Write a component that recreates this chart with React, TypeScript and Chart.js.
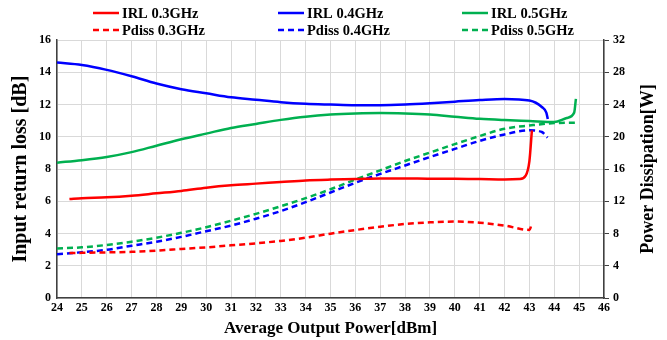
import React, { useEffect, useRef } from "react";
import { Chart, registerables } from "chart.js";

Chart.register(...registerables);

const irl03x = [24.5, 25, 26, 27, 28, 29, 30, 31, 32, 33, 34, 35, 36, 37, 38, 39, 40, 41, 42, 42.6, 42.85, 43.0, 43.1];
const irl03y = [6.15, 6.2, 6.25, 6.35, 6.5, 6.65, 6.85, 7.0, 7.1, 7.2, 7.3, 7.35, 7.38, 7.42, 7.42, 7.4, 7.4, 7.38, 7.35, 7.38, 7.6, 8.5, 10.4];

const irl04x = [24, 25, 26, 27, 28, 29, 30, 31, 32, 33, 34, 35, 36, 37, 38, 39, 40, 41, 42, 43, 43.5, 43.68, 43.74];
const irl04y = [14.6, 14.45, 14.15, 13.75, 13.3, 12.95, 12.7, 12.45, 12.3, 12.15, 12.05, 12.0, 11.96, 11.96, 12.0, 12.08, 12.18, 12.28, 12.35, 12.25, 11.85, 11.5, 11.1];

const irl05x = [24, 25, 26, 27, 28, 29, 30, 31, 32, 33, 34, 35, 36, 37, 38, 39, 40, 41, 42, 43, 44, 44.5, 44.8, 44.87];
const irl05y = [8.4, 8.55, 8.75, 9.05, 9.45, 9.85, 10.2, 10.55, 10.8, 11.05, 11.25, 11.38, 11.45, 11.48, 11.45, 11.38, 11.25, 11.12, 11.04, 10.98, 10.92, 11.17, 11.5, 12.35];

const pd03x = [24.5, 25, 26, 27, 28, 29, 30, 31, 32, 33, 34, 35, 36, 37, 38, 39, 40, 41, 42, 43, 43.1];
const pd03y = [5.6, 5.62, 5.68, 5.75, 5.9, 6.1, 6.3, 6.55, 6.8, 7.1, 7.5, 8.0, 8.45, 8.85, 9.2, 9.4, 9.5, 9.35, 9.0, 8.46, 9.3];

const pd04x = [24, 25, 26, 27, 28, 29, 30, 31, 32, 33, 34, 35, 36, 37, 38, 39, 40, 41, 42, 43, 43.5, 43.73];
const pd04y = [5.46, 5.7, 6.0, 6.5, 7.0, 7.6, 8.3, 9.0, 9.85, 10.8, 11.9, 13.1, 14.3, 15.4, 16.45, 17.5, 18.5, 19.5, 20.3, 20.8, 20.6, 19.9];

const pd05x = [24, 25, 26, 27, 28, 29, 30, 31, 32, 33, 34, 35, 36, 37, 38, 39, 40, 41, 42, 43, 44, 44.9];
const pd05y = [6.16, 6.3, 6.6, 7.0, 7.5, 8.1, 8.8, 9.6, 10.45, 11.4, 12.4, 13.5, 14.7, 15.85, 17.0, 18.05, 19.1, 20.1, 21.0, 21.4, 21.7, 21.75];

const labels = ["IRL 0.3GHz", "IRL 0.4GHz", "IRL 0.5GHz", "Pdiss 0.3GHz", "Pdiss 0.4GHz", "Pdiss 0.5GHz"];
const rightTitle = "Power Dissipation[W]";
const RED = "#ff0000";
const BLUE = "#0000ff";
const GREEN = "#00b050";

const pts = (xs: number[], ys: number[]) => xs.map((x, i) => ({ x, y: ys[i] }));

const FONT = "'Liberation Serif', 'Times New Roman', serif";

const legendPlugin = {
  id: "customLegend",
  afterDraw(chart: any) {
    const ctx = chart.ctx;
    const ds = chart.data.datasets;
    const cols = [93, 278, 462];
    const rows = [13, 30];
    ctx.save();
    ctx.font = `bold 14.5px ${FONT}`;
    ctx.textBaseline = "middle";
    ctx.textAlign = "left";
    ds.forEach((d: any, i: number) => {
      const col = i % 3;
      const row = Math.floor(i / 3);
      const x = cols[col];
      const y = rows[row];
      ctx.strokeStyle = d.borderColor;
      ctx.lineWidth = 2.5;
      ctx.setLineDash(d.borderDash || []);
      ctx.beginPath();
      ctx.moveTo(x, y);
      ctx.lineTo(x + 26, y);
      ctx.stroke();
      ctx.setLineDash([]);
      ctx.fillStyle = "#000";
      ctx.fillText(d.label, x + 29, y + 1);
    });
    // right axis title, reading bottom to top
    const area = chart.chartArea;
    ctx.font = `bold 18px ${FONT}`;
    ctx.textAlign = "center";
    ctx.translate(648, (area.top + area.bottom) / 2);
    ctx.rotate(-Math.PI / 2);
    ctx.fillText(rightTitle, 0, 0);
    ctx.restore();
  },
};

export default function App() {
  const ref = useRef<HTMLCanvasElement | null>(null);
  useEffect(() => {
    document.body.style.margin = "0";
    const mk = (i: number, xs: number[], ys: number[], color: string, dashed: boolean) => ({
      label: labels[i],
      data: pts(xs, ys),
      borderColor: color,
      backgroundColor: color,
      borderWidth: 2.5,
      borderDash: dashed ? [6, 4] : [],
      pointRadius: 0,
      tension: 0.4,
      cubicInterpolationMode: "monotone",
      yAxisID: dashed ? "y1" : "y",
      fill: false,
    });
    const chart = new Chart(ref.current!, {
      type: "line",
      data: {
        datasets: [
          mk(0, irl03x, irl03y, RED, false),
          mk(1, irl04x, irl04y, BLUE, false),
          mk(2, irl05x, irl05y, GREEN, false),
          mk(3, pd03x, pd03y, RED, true),
          mk(4, pd04x, pd04y, BLUE, true),
          mk(5, pd05x, pd05y, GREEN, true),
        ] as any,
      },
      options: {
        animation: false,
        responsive: false,
        maintainAspectRatio: false,
        layout: { padding: { top: 40, right: 38, left: 9, bottom: 1 } },
        plugins: { legend: { display: false }, tooltip: { enabled: false } },
        scales: {
          x: {
            type: "linear",
            min: 24,
            max: 46,
            ticks: { stepSize: 1, color: "#000", font: { family: FONT, size: 12, weight: "bold" }, padding: 3 },
            grid: { color: "#d9d9d9", drawTicks: false },
            border: { color: "#404040", width: 1.5 },
            title: { display: true, text: "Average Output Power[dBm]", color: "#000", font: { family: FONT, size: 17, weight: "bold" }, padding: { top: 0, bottom: 0 } },
          },
          y: {
            position: "left",
            min: 0,
            max: 16,
            ticks: { stepSize: 2, color: "#000", font: { family: FONT, size: 12, weight: "bold" }, padding: 6 },
            grid: { color: "#d9d9d9", drawTicks: false },
            border: { color: "#404040", width: 1.5 },
            title: { display: true, text: "Input return loss [dB]", color: "#000", font: { family: FONT, size: 20, weight: "bold" }, padding: { top: 0, bottom: 0 } },
          },
          y1: {
            position: "right",
            min: 0,
            max: 32,
            ticks: { stepSize: 4, color: "#000", font: { family: FONT, size: 12, weight: "bold" }, padding: 4 },
            grid: { drawOnChartArea: false, color: "#404040", tickLength: 5 },
            border: { color: "#404040", width: 1.5 },
            title: { display: false },
          },
        },
      } as any,
      plugins: [legendPlugin],
    });
    return () => chart.destroy();
  }, []);
  return (
    <div style={{ width: 667, height: 340 }}>
      <canvas ref={ref} width={667} height={340} style={{ width: 667, height: 340, display: "block" }} />
    </div>
  );
}
